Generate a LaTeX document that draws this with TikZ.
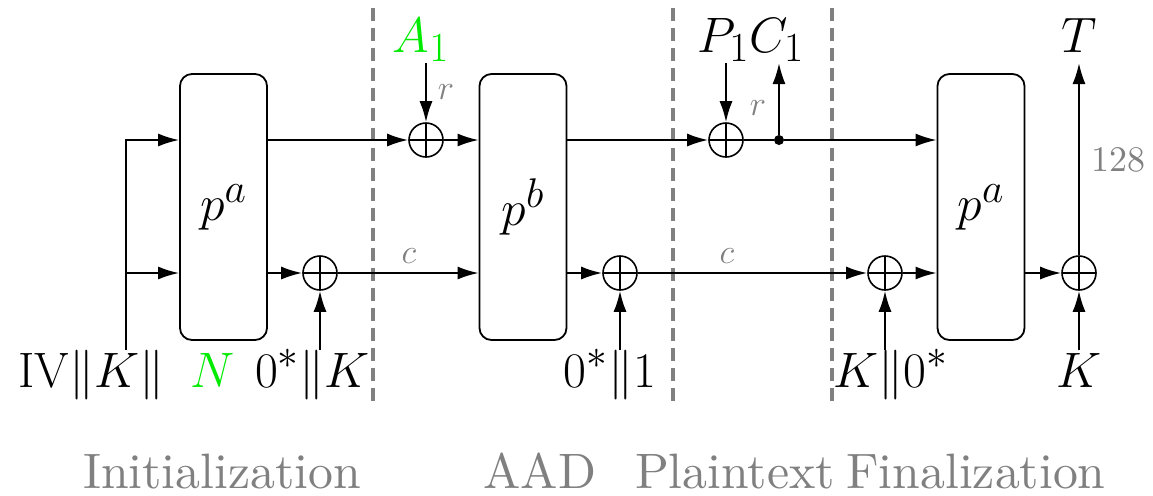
\documentclass[tikz,border=0pt]{standalone}
\usepackage{amsmath}
\usetikzlibrary{arrows.meta}
\definecolor{lgreen}{RGB}{0,235,0}
\definecolor{dgray}{RGB}{128,128,128}
\DeclareFontFamily{TU}{lmten}{}
\DeclareFontShape{TU}{lmten}{m}{n}{<-> "[lmroman10-regular]:mapping=tex-text;"}{}
\begin{document}
\begin{tikzpicture}[x=0.5pt,y=-0.5pt,
  arr/.style={-{Latex[length=10.5pt,width=6.5pt]}, line width=1pt},
  ln/.style={line width=1pt},
  perm/.style={draw, line width=0.9pt, rounded corners=6pt, minimum width=43.5pt, minimum height=133pt, inner sep=0pt, font=\fontsize{24.88}{30}\selectfont},
  xorn/.style={draw, circle, line width=0.8pt, minimum size=17pt, inner sep=0pt,
    path picture={\draw[line width=0.8pt] (path picture bounding box.north) -- (path picture bounding box.south) (path picture bounding box.west) -- (path picture bounding box.east);}},
  lbl/.style={font=\fontsize{24.88}{30}\selectfont, inner sep=0pt, anchor=base},
  small/.style={font=\fontfamily{lmten}\fontsize{18}{22}\selectfont, text=dgray, inner sep=0pt},
  sect/.style={font=\fontfamily{lmten}\fontsize{24.88}{30}\selectfont, text=dgray, inner sep=0pt, anchor=base},
  sepline/.style={dgray, line width=2pt, dash pattern=on 6.5pt off 3.5pt},
  dotn/.style={circle, fill, inner sep=0pt, minimum size=5pt}
]
\useasboundingbox (0,0) rectangle (1153,495);

% permutation boxes
\node[perm] (b1) at (223.5,207) {$p^a$};
\node[perm] (b2) at (523,207) {$p^b$};
\node[perm] (b3) at (981,207) {$p^a$};

% xor nodes
\node[xorn] (x1) at (320,273) {};
\node[xorn] (xa) at (426,140) {};
\node[xorn] (x2) at (620,273) {};
\node[xorn] (xp) at (726,140) {};
\node[xorn] (x3) at (885,273) {};
\node[xorn] (x4) at (1079,273) {};
\node[dotn] (d) at (779,140) {};

% text labels
\node[lbl, anchor=base west] (ivk) at (18,387) {$\mathrm{IV}\|K\|$};
\node[lbl, anchor=base west, text=lgreen] (n) at (190,387) {$N$};
\node[lbl, anchor=base east] (zk) at (370,387) {$0^*\|K$};
\node[lbl] (z1) at (610,387) {$0^*\|1$};
\node[lbl] (k0) at (891,387) {$K\|0^*$};
\node[lbl] (k) at (1079,387) {$K$};
\node[lbl, text=lgreen] (a1) at (421,52) {$A_1$};
\node[lbl] (pc) at (751,52) {$P_1C_1$};
\node[lbl] (t) at (1079,52) {$T$};

% section labels
\node[sect] (s1) at (222,488) {Initialization};
\node[sect] (s2) at (540,488) {AAD};
\node[sect] (s3) at (735,488) {Plaintext};
\node[sect] (s4) at (976,488) {Finalization};

% separators
\draw[sepline] (373,8) -- (373,405);
\draw[sepline] (673,8) -- (673,405);
\draw[sepline] (832,8) -- (832,405);

% helper coordinates
\coordinate (bot) at (0,350);
\coordinate (top) at (0,63);
\coordinate (ivs) at (126,350);

% initialization
\draw[arr] (ivs) |- (b1.west |- xa);
\draw[arr] (ivs |- x1) -- (b1.west |- x1);
\draw[arr] (b1.east |- xa) -- (xa);
\draw[arr] (b1.east |- x1) -- (x1);
\draw[arr] (x1 |- bot) -- (x1);

% AAD
\draw[arr] (xa |- top) -- (xa);
\node[small] (r1) at (446,92) {$r$};
\draw[arr] (xa) -- (b2.west |- xa);
\draw[arr] (x1) -- (b2.west |- x1);
\node[small] (c1) at (409,256) {$c$};
\draw[arr] (b2.east |- xa) -- (xp);
\draw[arr] (b2.east |- x2) -- (x2);
\draw[arr] (x2 |- bot) -- (x2);

% plaintext
\draw[arr] (xp |- top) -- (xp);
\node[small] (r2) at (758,108) {$r$};
\draw[ln] (xp) -- (d);
\draw[arr] (d) -- (d |- top);
\draw[arr] (d) -- (b3.west |- xp);
\draw[arr] (x2) -- (x3);
\node[small] (c2) at (727,256) {$c$};

% finalization
\draw[arr] (x3 |- bot) -- (x3);
\draw[arr] (x3) -- (b3.west |- x3);
\draw[arr] (b3.east |- x4) -- (x4);
\draw[arr] (x4 |- bot) -- (x4);
\draw[arr] (x4) -- (x4 |- top);
\node[small] (n128) at (1118,160) {128};
\end{tikzpicture}
\end{document}
